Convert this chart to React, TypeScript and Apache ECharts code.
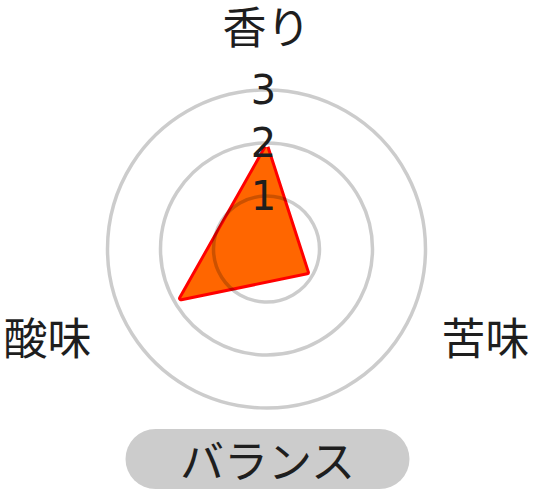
import React, { useEffect, useRef } from "react";
import * as echarts from "echarts";

// ECharts places indicators counter-clockwise from the top
const indicatorNames = ["香り", "酸味", "苦味"];
const values = [1.92, 1.86, 0.88];
const maxValue = 3;
const titleText = "バランス";

const JP = "'Noto Sans CJK JP', 'Noto Sans', sans-serif";
const NUM = "'DejaVu Sans', 'Noto Sans CJK JP', sans-serif";

export default function App() {
  const ref = useRef<HTMLDivElement>(null);
  useEffect(() => {
    if (!ref.current) return;
    const chart = echarts.init(ref.current, null, { renderer: "svg" });
    const indicator = indicatorNames.map((name, i) => {
      const base: any = { name, max: maxValue, min: 0 };
      if (i === 0) {
        base.axisLabel = {
          show: true,
          margin: 0,
          align: "center",
          verticalAlign: "middle",
          fontSize: 40,
          fontFamily: NUM,
          color: "#1e1e1e",
          padding: [0, 6, 4, 0],
          formatter: (v: number) => (v === 0 ? "" : String(v)),
        };
      }
      return base;
    });
    chart.setOption({
      animation: false,
      title: {
        text: titleText,
        left: "center",
        bottom: 0,
        backgroundColor: "#cccccc",
        borderRadius: 30,
        padding: [8, 54, 8, 54],
        textStyle: {
          fontSize: 44,
          fontWeight: "normal",
          fontFamily: JP,
          color: "#1e1e1e",
        },
      },
      radar: {
        z: 3,
        center: [266.5, 249],
        radius: 159,
        shape: "circle",
        splitNumber: 3,
        startAngle: 90,
        axisNameGap: 43,
        indicator,
        axisName: {
          color: "#1e1e1e",
          fontSize: 44,
          fontFamily: JP,
          formatter: (name: string) =>
            name === indicatorNames[0] ? `{t|${name}}` : `{s|${name}}\n{g| }`,
          rich: {
            t: { fontSize: 44, fontFamily: JP, color: "#1e1e1e" },
            s: { fontSize: 44, fontFamily: JP, color: "#1e1e1e" },
            g: { fontSize: 2, lineHeight: 29 },
          },
        },
        axisLine: { show: false },
        axisTick: { show: false },
        axisLabel: { show: false },
        splitArea: { show: false },
        splitLine: {
          lineStyle: { color: "rgba(0,0,0,0.2)", width: 3.5 },
        },
      },
      series: [
        {
          type: "radar",
          z: 2,
          symbol: "none",
          lineStyle: { color: "#ff0000", width: 6 },
          areaStyle: { color: "#ff6600", opacity: 1 },
          data: [
            {
              value: values,
              name: titleText,
              lineStyle: { color: "#ff0000", width: 6 },
              areaStyle: { color: "#ff6600", opacity: 1 },
            },
          ],
        },
      ],
    });
    return () => chart.dispose();
  }, []);
  return (
    <div
      ref={ref}
      style={{ position: "absolute", left: 0, top: 0, width: 535, height: 489 }}
    />
  );
}
